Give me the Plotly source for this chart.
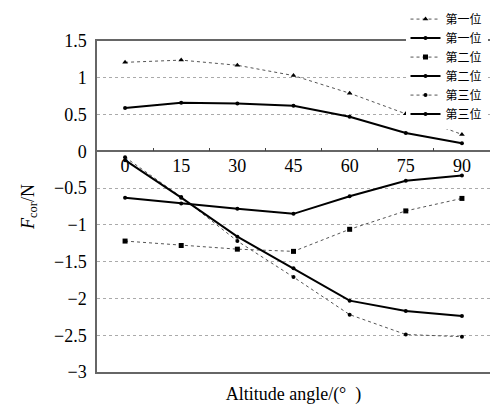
import plotly.graph_objects as go

angles = [0, 15, 30, 45, 60, 75, 90]
names = ["第一位", "第一位", "第二位", "第二位", "第三位", "第三位"]

s1_dot = [1.21, 1.24, 1.17, 1.03, 0.79, 0.51, 0.23]
s1_sol = [0.59, 0.66, 0.65, 0.62, 0.47, 0.25, 0.11]
s2_dot = [-1.22, -1.28, -1.33, -1.36, -1.06, -0.81, -0.64]
s2_sol = [-0.63, -0.71, -0.78, -0.85, -0.61, -0.40, -0.33]
s3_dot = [-0.08, -0.62, -1.22, -1.71, -2.22, -2.49, -2.52]
s3_sol = [-0.12, -0.63, -1.16, -1.59, -2.03, -2.17, -2.24]

y_ticks = [1.5, 1, 0.5, 0, -0.5, -1, -1.5, -2, -2.5, -3]
y_text = ["1.5", "1", "0.5", "0", "−0.5", "−1", "−1.5", "−2", "−2.5", "−3"]
x_minor = [7.5, 22.5, 37.5, 52.5, 67.5, 82.5]

FONT = "Liberation Serif"
series = [
    (s1_dot, "dot", "triangle-up"),
    (s1_sol, "solid", "circle"),
    (s2_dot, "dot", "square"),
    (s2_sol, "solid", "circle"),
    (s3_dot, "dot", "circle"),
    (s3_sol, "solid", "circle"),
]

fig = go.Figure()
for (vals, dash, sym), nm in zip(series, names):
    dotted = dash == "dot"
    fig.add_trace(go.Scatter(
        x=angles, y=vals, name=nm, mode="lines+markers",
        line=dict(color="#555" if dotted else "black", width=1 if dotted else 2, dash=dash),
        marker=dict(symbol=sym, size=5 if sym != "circle" else 4, color="black"),
    ))

fig.add_trace(go.Scatter(x=[0], y=[None], xaxis="x2", showlegend=False, hoverinfo="skip"))
fig.add_trace(go.Scatter(x=[0], y=[None], xaxis="x3", showlegend=False, hoverinfo="skip"))

zero_pos = 3.0 / 4.5

fig.update_layout(
    width=490, height=405,
    margin=dict(l=97, r=0, t=41, b=33, autoexpand=False),
    plot_bgcolor="white", paper_bgcolor="white",
    font=dict(family=FONT, size=18, color="black"),
    xaxis=dict(range=[-7.5, 97.5], showline=True, mirror=True, linecolor="#666", linewidth=1.5,
               showgrid=False, zeroline=False, showticklabels=False, ticks="", automargin=False,
               title=dict(text="Altitude angle/(°  )", font=dict(size=18), standoff=17)),
    xaxis2=dict(overlaying="x", matches="x", anchor="free", position=zero_pos,
                showline=True, linecolor="#666", linewidth=1.5, showgrid=False, zeroline=False,
                tickvals=angles, ticktext=[str(a) for a in angles], ticks="",
                ticklabelstandoff=-2, tickfont=dict(size=18), automargin=False),
    xaxis3=dict(overlaying="x", matches="x", anchor="free", position=zero_pos,
                showline=False, showgrid=False, zeroline=False, tickvals=x_minor,
                ticks="inside", ticklen=3, tickcolor="#444", showticklabels=False),
    yaxis=dict(range=[-3, 1.5], tickvals=y_ticks, ticktext=y_text, showline=True,
               linecolor="#666", linewidth=1.5, showgrid=True, gridcolor="#aaa",
               griddash="dot", gridwidth=1, zeroline=False, ticks="", ticklabelstandoff=5,
               tickfont=dict(size=18), automargin=False,
               title=dict(text="<i>F</i><sub>cor</sub>/N", font=dict(size=18), standoff=15)),
    legend=dict(x=0.785, y=1.11, xanchor="left", yanchor="top", bgcolor="white",
                font=dict(family="Noto Sans CJK SC", size=12), itemwidth=30,
                tracegroupgap=0),
    showlegend=True,
)

fig.write_html("out.html", config={"displayModeBar": False},
               post_script="document.body.style.margin='0';")
